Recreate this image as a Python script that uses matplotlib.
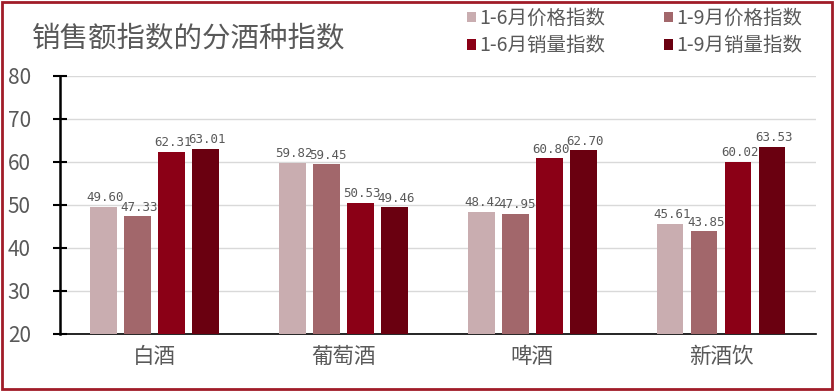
import numpy as np
import matplotlib.pyplot as plt
from matplotlib.patches import Rectangle

plt.rcParams['font.family'] = ['Noto Sans CJK SC', 'DejaVu Sans']

categories = ['白酒', '葡萄酒', '啤酒', '新酒饮']
series_names = ['1-6月价格指数', '1-9月价格指数', '1-6月销量指数', '1-9月销量指数']
price_h1 = [49.60, 59.82, 48.42, 45.61]
price_q3 = [47.33, 59.45, 47.95, 43.85]
volume_h1 = [62.31, 50.53, 60.80, 60.02]
volume_q3 = [63.01, 49.46, 62.70, 63.53]
colors = ['#c9adb0', '#a2676b', '#8b0016', '#6a0010']

series = [price_h1, price_q3, volume_h1, volume_q3]

fig = plt.figure(figsize=(8.34, 3.91), dpi=100)
ax = fig.add_axes([0.072, 0.146, 0.906, 0.66])

x = np.arange(len(categories))
step = 0.18
width = 0.14
for i, (vals, name, c) in enumerate(zip(series, series_names, colors)):
    pos = x + (i - 1.5) * step
    ax.bar(pos, vals, width, color=c, label=name, zorder=3)
    for p, v in zip(pos, vals):
        ax.text(p + 0.01, v + 0.6, f'{v:.2f}', ha='center', va='bottom',
                fontsize=9, color='#595959', family='DejaVu Sans Mono', zorder=4)

ax.set_xlim(-0.5, 3.5)
ax.set_ylim(20, 80)
ax.set_yticks(range(20, 81, 10))
ax.set_xticks(x)
ax.set_xticklabels(categories, fontsize=15.5, color='#595959')
ax.tick_params(axis='x', length=0, pad=9)
ax.tick_params(axis='y', direction='inout', length=10, width=1.5, labelsize=15,
               labelcolor='#595959', pad=16)
ax.grid(axis='y', color='#d9d9d9', linewidth=1, zorder=0)
for s in ['top', 'right']:
    ax.spines[s].set_visible(False)
ax.spines['left'].set_linewidth(1.8)
ax.spines['bottom'].set_linewidth(1.2)

fig.text(0.038, 0.903, '销售额指数的分酒种指数', fontsize=20.5, color='#595959', va='center')

handles, labels = ax.get_legend_handles_labels()
order = [0, 2, 1, 3]
ax.legend([handles[i] for i in order], [labels[i] for i in order], ncol=2,
          loc='center', bbox_to_anchor=(0.761, 0.918), bbox_transform=fig.transFigure,
          frameon=False, fontsize=14, labelcolor='#595959', handlelength=0.45,
          handleheight=0.45, handletextpad=0.2, columnspacing=3.0, labelspacing=0.35)

fig.patches.append(Rectangle((0.002, 0.004), 0.996, 0.992, transform=fig.transFigure,
                             fill=False, edgecolor='#a01c28', linewidth=2))

fig.savefig('out.png', dpi=100)
